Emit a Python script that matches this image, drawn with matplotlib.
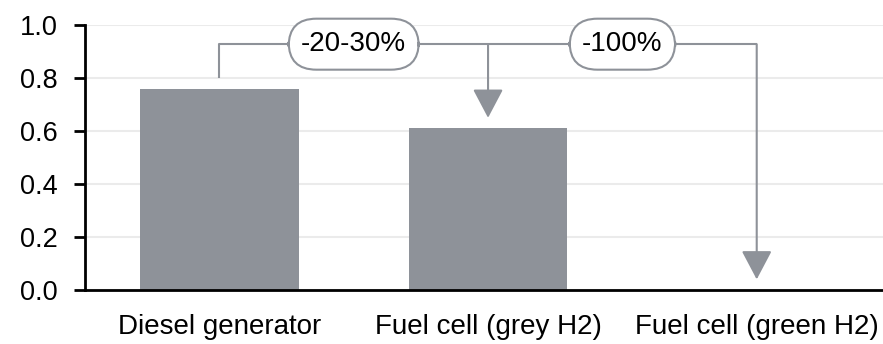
import matplotlib
matplotlib.use("Agg")
import matplotlib.pyplot as plt

categories = ["Diesel generator", "Fuel cell (grey H2)", "Fuel cell (green H2)"]
values = [0.76, 0.61, 0.0]
yticks = [0.0, 0.2, 0.4, 0.6, 0.8, 1.0]
change_labels = ["-20-30%", "-100%"]

bar_color = "#8e9299"
line_color = "#8e9299"

plt.rcParams['font.family'] = ['Liberation Sans', 'DejaVu Sans']

fig = plt.figure(figsize=(8.83, 3.44), dpi=100)
ax = fig.add_axes([0.0963, 0.157, 0.9037, 0.770])

x = list(range(len(categories)))
ax.bar(x, values, width=0.59, color=bar_color, zorder=2)

ax.set_xlim(-0.5, 2.47)
ax.set_ylim(0, 1.0)
ax.set_yticks(yticks)
ax.set_yticklabels([f"{t:.1f}" for t in yticks])
ax.set_xticks(x)
ax.set_xticklabels(categories)
ax.tick_params(axis='y', labelsize=19.5, length=8, width=2, direction='out', pad=12)
ax.tick_params(axis='x', labelsize=20, length=0, pad=17)
ax.yaxis.grid(True, color='#ebebeb', lw=1.5, zorder=0)
ax.set_axisbelow(True)
for s in ['top', 'right']:
    ax.spines[s].set_visible(False)
ax.spines['left'].set_linewidth(2)
ax.spines['bottom'].set_linewidth(2)

# bracket annotations
level = 0.928
start_y = 0.80
tips = [0.65, 0.04]
ax.plot([x[0], x[0], x[2]], [start_y, level, level], color=line_color, lw=1.5,
        zorder=3, solid_capstyle='butt')
for xi, tip in zip(x[1:], tips):
    ax.annotate("", xy=(xi, tip), xytext=(xi, level),
                arrowprops=dict(arrowstyle="-|>,head_length=1.8,head_width=0.95",
                                color=line_color, lw=1.5, shrinkA=0, shrinkB=0),
                zorder=3)
for i, lab in enumerate(change_labels):
    ax.text((x[i] + x[i + 1]) / 2, level, lab, ha='center', va='center',
            fontsize=20, color='black', zorder=5,
            bbox=dict(boxstyle="round,pad=0.45,rounding_size=1.0", fc='white',
                      ec=line_color, lw=1.5))

fig.savefig("out.png", dpi=100)
